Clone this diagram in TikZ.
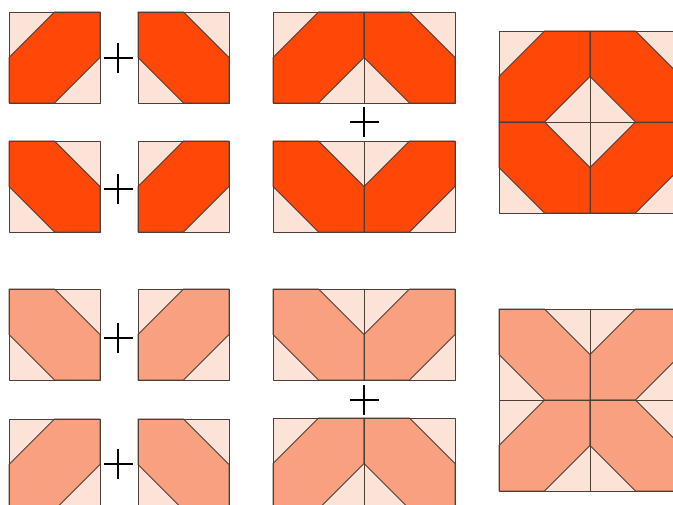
\documentclass[tikz,border=0pt]{standalone}
\usepackage{xcolor}
\definecolor{hotband}{HTML}{FF4808}
\definecolor{softband}{HTML}{F9A080}
\definecolor{tilebg}{HTML}{FCE3D8}
\definecolor{seam}{HTML}{4E3E36}

\begin{document}
\begin{tikzpicture}[
		x=1pt, y=-1pt,
		tile/.style={draw=seam, line width=0.85pt, line join=round},
		plusbold/.style={black, line width=2.6pt},
		plusthin/.style={black, line width=1.7pt},
		]
		\useasboundingbox (0,0) rectangle (673,505);
		\def\s{91}
		\def\h{45.5}

		% Tiles, band rising to the right (light corners top left / bottom right)
		\foreach \px/\py/\col in {9/12/hotband, 138/141/hotband,
				273/12/hotband, 364/141/hotband, 499/31/hotband, 590/122/hotband,
				138/289/softband, 9/419/softband, 364/289/softband,
				273/418/softband, 590/309/softband, 499/400/softband} {
			\fill[tilebg] (\px,\py) rectangle ++(\s,\s);
			\filldraw[tile, fill=\col] (\px+\h,\py) -- ++(\h,0) -- ++(0,\h)
				-- ++(-\h,\h) -- ++(-\h,0) -- ++(0,-\h) -- cycle;
			\draw[tile] (\px,\py) rectangle ++(\s,\s);
		}

		% Tiles, band falling to the right (light corners top right / bottom left)
		\foreach \px/\py/\col in {138/12/hotband, 9/141/hotband,
				364/12/hotband, 273/141/hotband, 590/31/hotband, 499/122/hotband,
				9/289/softband, 138/419/softband, 273/289/softband,
				364/418/softband, 499/309/softband, 590/400/softband} {
			\fill[tilebg] (\px,\py) rectangle ++(\s,\s);
			\filldraw[tile, fill=\col] (\px,\py) -- ++(\h,0) -- ++(\h,\h)
				-- ++(0,\h) -- ++(-\h,0) -- ++(-\h,-\h) -- cycle;
			\draw[tile] (\px,\py) rectangle ++(\s,\s);
		}

		% Plus signs
		\foreach \cx/\cy/\wt in {118/58/plusbold, 118/189/plusbold,
				364/122/plusbold, 118/338/plusthin, 118/464/plusthin,
				364/400/plusthin} {
			\draw[\wt] (\cx-14.5,\cy) -- (\cx+14.5,\cy)
				(\cx,\cy-15) -- (\cx,\cy+15);
		}
	\end{tikzpicture}
\end{document}
